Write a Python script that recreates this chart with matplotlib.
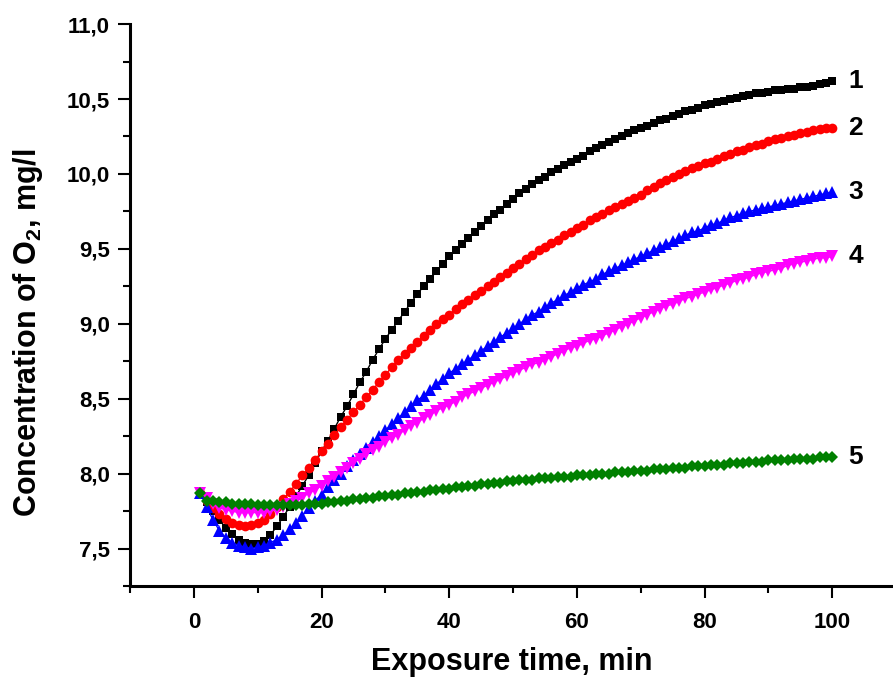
import numpy as np
import matplotlib
matplotlib.use("Agg")
import matplotlib.pyplot as plt
from matplotlib.ticker import MultipleLocator, FuncFormatter

plt.rcParams["font.family"] = ["Liberation Sans", "DejaVu Sans"]
plt.rcParams["font.weight"] = "bold"
plt.rcParams["mathtext.fontset"] = "custom"
plt.rcParams["mathtext.rm"] = "Liberation Sans:bold"
plt.rcParams["mathtext.it"] = "Liberation Sans:bold"
plt.rcParams["mathtext.bf"] = "Liberation Sans:bold"

# exposure time, min
time_min = np.arange(1, 101)

# concentration of O2, mg/l
curve_1 = [7.87, 7.81, 7.75, 7.69, 7.64, 7.60, 7.56, 7.54, 7.53, 7.53,
           7.55, 7.59, 7.65, 7.71, 7.78, 7.85, 7.92, 7.99, 8.07, 8.15,
           8.22, 8.30, 8.38, 8.45, 8.53, 8.61, 8.68, 8.76, 8.83, 8.90,
           8.96, 9.02, 9.08, 9.14, 9.20, 9.25, 9.30, 9.35, 9.40, 9.45,
           9.49, 9.53, 9.57, 9.61, 9.65, 9.69, 9.73, 9.76, 9.80, 9.83,
           9.87, 9.90, 9.93, 9.96, 9.98, 10.01, 10.03, 10.06, 10.08, 10.10,
           10.12, 10.15, 10.17, 10.19, 10.21, 10.23, 10.25, 10.27, 10.29, 10.31,
           10.32, 10.34, 10.36, 10.37, 10.39, 10.40, 10.42, 10.43, 10.44, 10.46,
           10.47, 10.48, 10.49, 10.50, 10.51, 10.52, 10.53, 10.54, 10.54, 10.55,
           10.56, 10.56, 10.57, 10.57, 10.58, 10.58, 10.59, 10.60, 10.61, 10.62]

curve_2 = [7.87, 7.82, 7.77, 7.73, 7.70, 7.67, 7.66, 7.65, 7.66, 7.67,
           7.69, 7.73, 7.78, 7.83, 7.88, 7.93, 7.99, 8.04, 8.09, 8.15,
           8.20, 8.26, 8.31, 8.36, 8.41, 8.46, 8.51, 8.56, 8.61, 8.66,
           8.71, 8.76, 8.80, 8.84, 8.88, 8.92, 8.96, 9.00, 9.03, 9.06,
           9.10, 9.13, 9.16, 9.19, 9.22, 9.25, 9.28, 9.31, 9.34, 9.37,
           9.40, 9.43, 9.46, 9.49, 9.51, 9.54, 9.56, 9.59, 9.61, 9.64,
           9.66, 9.69, 9.71, 9.73, 9.76, 9.78, 9.80, 9.82, 9.84, 9.86,
           9.89, 9.91, 9.94, 9.96, 9.98, 10.00, 10.02, 10.04, 10.05, 10.07,
           10.08, 10.10, 10.12, 10.13, 10.15, 10.16, 10.18, 10.19, 10.20, 10.22,
           10.23, 10.24, 10.25, 10.26, 10.27, 10.28, 10.29, 10.30, 10.31, 10.31]

curve_3 = [7.87, 7.78, 7.69, 7.62, 7.57, 7.54, 7.52, 7.51, 7.50, 7.51,
           7.52, 7.54, 7.56, 7.59, 7.63, 7.67, 7.72, 7.77, 7.82, 7.86,
           7.91, 7.96, 8.00, 8.05, 8.09, 8.13, 8.17, 8.21, 8.25, 8.29,
           8.33, 8.37, 8.41, 8.45, 8.49, 8.52, 8.56, 8.60, 8.63, 8.67,
           8.70, 8.73, 8.76, 8.79, 8.82, 8.85, 8.88, 8.91, 8.94, 8.97,
           9.00, 9.03, 9.06, 9.08, 9.11, 9.14, 9.16, 9.19, 9.21, 9.24,
           9.26, 9.28, 9.30, 9.33, 9.35, 9.37, 9.39, 9.41, 9.43, 9.45,
           9.47, 9.49, 9.51, 9.53, 9.55, 9.57, 9.59, 9.61, 9.62, 9.64,
           9.66, 9.67, 9.69, 9.71, 9.72, 9.74, 9.75, 9.76, 9.77, 9.78,
           9.79, 9.80, 9.81, 9.82, 9.83, 9.84, 9.85, 9.86, 9.87, 9.88]

curve_4 = [7.87, 7.84, 7.80, 7.77, 7.76, 7.75, 7.74, 7.74, 7.74, 7.74,
           7.74, 7.75, 7.76, 7.78, 7.80, 7.82, 7.84, 7.87, 7.89, 7.92,
           7.95, 7.98, 8.01, 8.04, 8.07, 8.10, 8.13, 8.16, 8.18, 8.21,
           8.24, 8.26, 8.29, 8.32, 8.34, 8.37, 8.39, 8.42, 8.44, 8.46,
           8.48, 8.51, 8.53, 8.55, 8.57, 8.59, 8.61, 8.63, 8.65, 8.67,
           8.69, 8.71, 8.73, 8.74, 8.76, 8.78, 8.80, 8.82, 8.84, 8.85,
           8.87, 8.89, 8.90, 8.92, 8.94, 8.96, 8.98, 9.00, 9.02, 9.04,
           9.06, 9.08, 9.10, 9.12, 9.13, 9.15, 9.17, 9.18, 9.20, 9.21,
           9.23, 9.24, 9.26, 9.27, 9.29, 9.30, 9.31, 9.33, 9.34, 9.35,
           9.36, 9.37, 9.39, 9.40, 9.41, 9.42, 9.43, 9.44, 9.44, 9.45]

curve_5 = [7.87, 7.82, 7.82, 7.81, 7.81, 7.80, 7.80, 7.80, 7.80, 7.79,
           7.79, 7.79, 7.79, 7.79, 7.79, 7.79, 7.79, 7.80, 7.80, 7.80,
           7.81, 7.81, 7.82, 7.82, 7.83, 7.83, 7.84, 7.84, 7.85, 7.85,
           7.86, 7.86, 7.87, 7.87, 7.88, 7.88, 7.89, 7.89, 7.90, 7.90,
           7.91, 7.91, 7.92, 7.92, 7.93, 7.93, 7.94, 7.94, 7.95, 7.95,
           7.96, 7.96, 7.96, 7.97, 7.97, 7.97, 7.98, 7.98, 7.98, 7.99,
           7.99, 7.99, 8.00, 8.00, 8.00, 8.01, 8.01, 8.01, 8.02, 8.02,
           8.02, 8.03, 8.03, 8.03, 8.04, 8.04, 8.04, 8.05, 8.05, 8.05,
           8.06, 8.06, 8.06, 8.07, 8.07, 8.07, 8.08, 8.08, 8.08, 8.09,
           8.09, 8.09, 8.09, 8.10, 8.10, 8.10, 8.10, 8.11, 8.11, 8.11]

curve_labels = ["1", "2", "3", "4", "5"]

STYLES = [
    ("black",   "s", 6.0),
    ("#ff0000", "o", 7.0),
    ("#0000ff", "^", 8.0),
    ("#ff00ff", "v", 8.0),
    ("#008000", "D", 6.0),
]


def main():
    fig = plt.figure(figsize=(8.93, 6.83), dpi=100)
    ax = fig.add_axes([0.1456, 0.142, 0.8544, 0.8227])

    curves = [curve_1, curve_2, curve_3, curve_4, curve_5]
    for vals, lab, (col, mk, ms) in zip(curves, curve_labels, STYLES):
        ax.plot(time_min, vals, "-", color=col, lw=1.0,
                marker=mk, markersize=ms, markeredgewidth=0)
        # curve number next to the last point
        ax.text(time_min[-1] + 2.5, vals[-1], lab, fontsize=19, fontweight="bold",
                ha="left", va="center")

    ax.set_xlim(-10, 109.5)
    ax.set_ylim(7.25, 11.0)

    ax.xaxis.set_major_locator(MultipleLocator(20))
    ax.xaxis.set_minor_locator(MultipleLocator(10))
    ax.yaxis.set_major_locator(MultipleLocator(0.5))
    ax.yaxis.set_minor_locator(MultipleLocator(0.25))
    ax.set_xticks(np.arange(0, 101, 20))
    ax.yaxis.set_major_formatter(FuncFormatter(lambda v, p: f"{v:.1f}".replace(".", ",")))

    ax.tick_params(which="major", direction="out", length=8.5, width=1.5,
                   labelsize=16, pad=6)
    ax.tick_params(axis="x", which="major", pad=10)
    ax.tick_params(which="minor", direction="out", length=5, width=1.5)
    for lbl in ax.get_xticklabels() + ax.get_yticklabels():
        lbl.set_fontweight("bold")

    for side in ("top", "right"):
        ax.spines[side].set_visible(False)
    for side in ("left", "bottom"):
        ax.spines[side].set_linewidth(2.2)

    ax.set_xlabel("Exposure time, min", fontsize=22, fontweight="bold", labelpad=10)
    ax.set_ylabel("Concentration of O$_2$, mg/l", fontsize=22, fontweight="bold",
                  family=["Liberation Sans Narrow", "Liberation Sans"])
    ax.yaxis.set_label_coords(-0.112, 0.45)

    fig.savefig("out.png", dpi=100)


if __name__ == "__main__":
    main()
